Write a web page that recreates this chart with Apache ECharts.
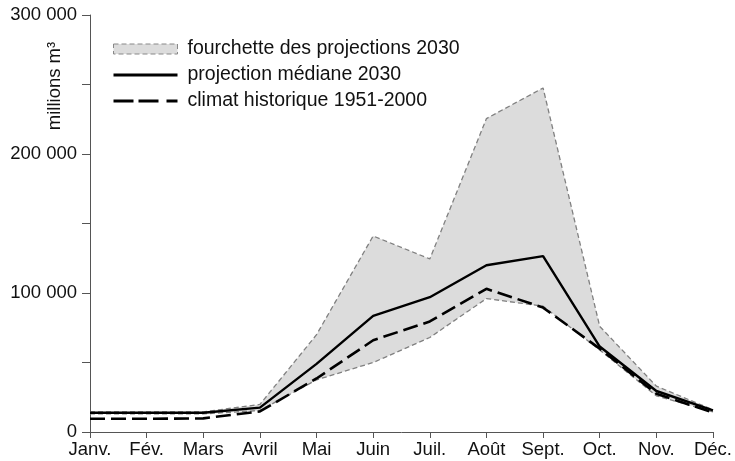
<!DOCTYPE html>
<html>
<head>
<meta charset="utf-8">
<script src="https://cdn.jsdelivr.net/npm/echarts@6/dist/echarts.min.js"></script>
<style>
  html, body { margin: 0; padding: 0; background: #fff; }
  #chart { width: 735px; height: 461px; }
</style>
</head>
<body>
<div id="chart"></div>
<script>
// mois
var months = ['Janv.', 'Fév.', 'Mars', 'Avril', 'Mai', 'Juin', 'Juil.', 'Août', 'Sept.', 'Oct.', 'Nov.', 'Déc.'];

// fourchette des projections 2030 (haut / bas)
var upper = [14500, 14500, 14500, 19800, 70000, 141000, 124500, 225500, 247500, 76000, 33000, 16000];
var lower = [13000, 13000, 13000, 15500, 37500, 50000, 68000, 96000, 90500, 59000, 26000, 14500];

// projection médiane 2030
var median = [13800, 13800, 13800, 17500, 49000, 83500, 97000, 120000, 126500, 61500, 29500, 15500];

// climat historique 1951-2000
var hist = [9500, 9500, 9800, 14800, 38500, 66000, 79500, 103000, 89500, 60000, 27500, 14000];

var bandName = 'fourchette des projections 2030';
var medName = 'projection médiane 2030';
var histName = 'climat historique 1951-2000';

var range = upper.map(function (v, i) { return v - lower[i]; });

var font = '"Liberation Sans", Arial, sans-serif';
var axisColor = '#555';

var chart = echarts.init(document.getElementById('chart'));

var option = {
    animation: false,
    backgroundColor: '#fff',
    grid: { left: 90, right: 17, top: 15, bottom: 29 },
    legend: {
        orient: 'vertical',
        left: 108,
        top: 34,
        itemWidth: 64,
        itemHeight: 10,
        itemGap: 6,
        textStyle: { fontFamily: font, fontSize: 19.5, color: '#111', padding: [0, 0, 0, 5] },
        data: [
            { name: bandName, icon: 'rect',
              itemStyle: { color: '#dcdcdc', borderColor: '#888', borderWidth: 1, borderType: [5, 3] } },
            { name: medName, icon: 'path://M0,0h64v2.8h-64z', itemStyle: { color: '#000' } },
            { name: histName, icon: 'path://M0,0h20v2.8h-20z M25,0h20v2.8h-20z M53,0h11v2.8h-11z',
              itemStyle: { color: '#000' } }
        ]
    },
    graphic: [{
        type: 'text',
        x: 55,
        y: 86,
        rotation: Math.PI / 2,
        style: {
            text: 'millions m³', font: '18.5px ' + font, fill: '#111',
            textAlign: 'center', textVerticalAlign: 'middle'
        }
    }],
    xAxis: {
        type: 'category',
        data: months,
        boundaryGap: false,
        axisLine: { lineStyle: { color: axisColor, width: 1 } },
        axisTick: { alignWithLabel: true, length: 6, lineStyle: { color: axisColor } },
        axisLabel: { fontFamily: font, fontSize: 18.5, color: '#111', margin: 8, interval: 0 },
        splitLine: { show: false }
    },
    yAxis: {
        type: 'value',
        min: 0,
        max: 300000,
        interval: 50000,
        axisLine: { show: true, lineStyle: { color: axisColor, width: 1 } },
        axisTick: { show: true, length: 8, lineStyle: { color: axisColor } },
        axisLabel: {
            fontFamily: font, fontSize: 18.5, color: '#111', margin: 13,
            formatter: function (v) {
                if (v % 100000 !== 0) return '';
                return String(v).replace(/\B(?=(\d{3})+(?!\d))/g, ' ');
            }
        },
        splitLine: { show: false }
    },
    series: [
        {
            name: 'base',
            type: 'line',
            stack: 'band',
            data: lower,
            symbol: 'none',
            lineStyle: { opacity: 0 },
            silent: true
        },
        {
            name: bandName,
            type: 'line',
            stack: 'band',
            data: range,
            symbol: 'none',
            lineStyle: { opacity: 0 },
            areaStyle: { color: '#dcdcdc', opacity: 1 },
            itemStyle: { color: '#dcdcdc' },
            silent: true
        },
        {
            name: 'haut',
            type: 'line',
            data: upper,
            symbol: 'none',
            lineStyle: { color: '#808080', width: 1.3, type: [5, 3] }
        },
        {
            name: 'bas',
            type: 'line',
            data: lower,
            symbol: 'none',
            lineStyle: { color: '#808080', width: 1.3, type: [5, 3] }
        },
        {
            name: histName,
            type: 'line',
            data: hist,
            symbol: 'none',
            itemStyle: { color: '#000' },
            lineStyle: { color: '#000', width: 2.6, type: [15, 6] }
        },
        {
            name: medName,
            type: 'line',
            data: median,
            symbol: 'none',
            itemStyle: { color: '#000' },
            lineStyle: { color: '#000', width: 2.4 }
        }
    ]
};

chart.setOption(option);
</script>
</body>
</html>
